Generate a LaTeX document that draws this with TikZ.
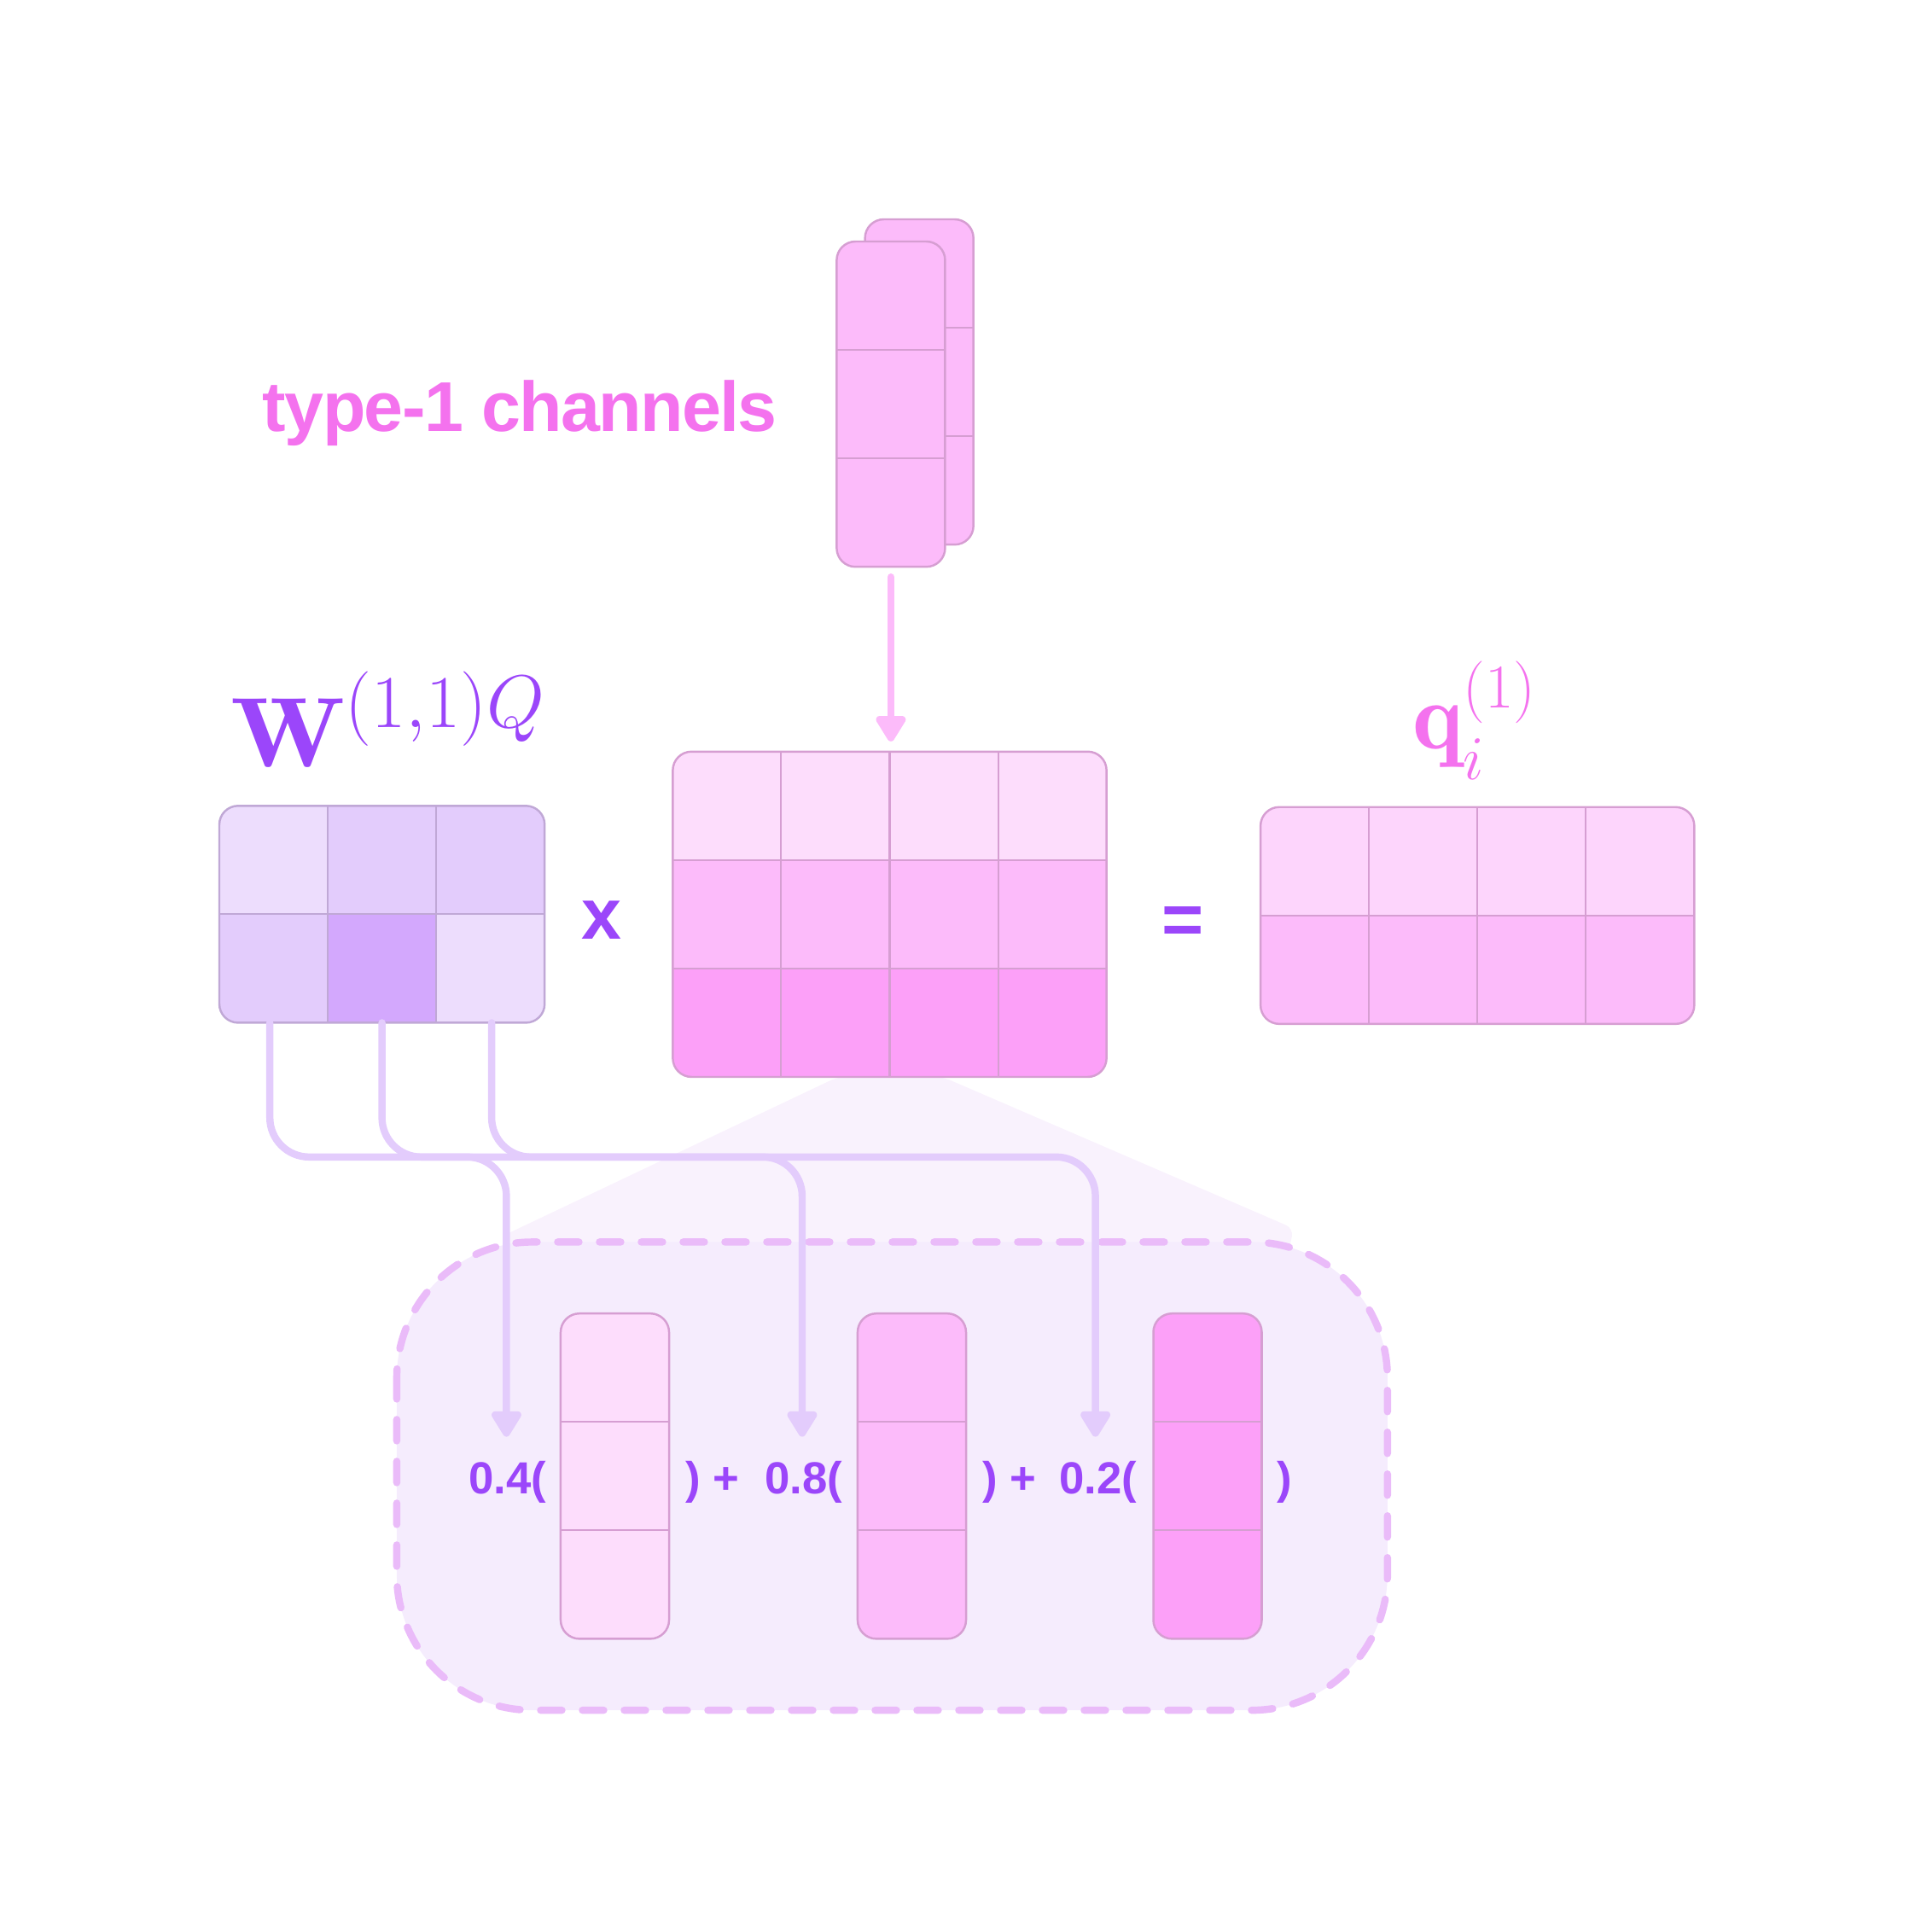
\documentclass[tikz,border=0pt]{standalone}
\usepackage{amsmath,amssymb}
\usepackage{fontspec}
\newfontfamily\headfont{Liberation Sans}[LetterSpace=-2]
\newfontfamily\coeffont{Liberation Sans}
\usepackage{tikz}
\usetikzlibrary{arrows.meta,positioning,calc}
\definecolor{Violet}{RGB}{155,70,250}
\definecolor{Magenta}{RGB}{244,114,238}
\definecolor{PinkA}{RGB}{253,221,252}
\definecolor{PinkB}{RGB}{252,187,250}
\definecolor{PinkC}{RGB}{252,160,248}
\definecolor{PinkQ}{RGB}{253,213,252}
\definecolor{LilacA}{RGB}{237,221,253}
\definecolor{LilacB}{RGB}{227,204,252}
\definecolor{LilacC}{RGB}{211,168,253}
\definecolor{PinkEdge}{RGB}{214,158,210}
\definecolor{LilacEdge}{RGB}{192,168,214}
\definecolor{Wire}{RGB}{227,204,252}
\definecolor{DashEdge}{RGB}{234,187,249}
\definecolor{ZoomFill}{RGB}{245,236,253}
\definecolor{FanFill}{RGB}{249,242,253}
\newcommand{\cellsz}{12.707mm}
\newcommand{\blockrad}{2.2mm}
\tikzset{
  blockbox/.style={draw=none,inner sep=0pt,outer sep=0pt},
  wire/.style={-{Triangle[length=3.4mm,width=3.9mm,round]},draw=Wire,line width=2.4pt,line cap=round,rounded corners=4.6mm},
  feed/.style={-{Triangle[length=3.4mm,width=3.9mm,round]},draw=PinkB,line width=2.4pt,line cap=round},
  chanlabel/.style={font={\headfont\bfseries\fontsize{23.5}{28}\selectfont},text=Magenta,inner sep=0pt},
  oplabel/.style={font={\coeffont\bfseries\fontsize{24}{28}\selectfont},text=Violet,inner sep=0pt},
  coef/.style={font={\coeffont\bfseries\fontsize{15}{18}\selectfont},text=Violet,inner sep=0pt},
  mathlabel/.style={font={\fontsize{33}{39}\selectfont},inner sep=0pt},
  zoombox/.style={draw=DashEdge,fill=ZoomFill,line width=2.4pt,dash pattern=on 2.5mm off 2.4mm,line cap=round,rounded corners=15.9mm}
}
% #1 name, #2 top left, #3 cols, #4 rows, #5 edge colour, #6 cell fills (row by row)
\newcommand{\block}[6]{%
  \node[blockbox,minimum width=#3*\cellsz,minimum height=#4*\cellsz,anchor=north west] (#1) at (#2) {};
  \begin{scope}
    \clip[rounded corners=\blockrad] (#1.north west) rectangle (#1.south east);
    \foreach \f [count=\k from 0] in {#6} {
      \pgfmathtruncatemacro\ci{mod(\k,#3)}
      \pgfmathtruncatemacro\ri{div(\k,#3)}
      \filldraw[fill=\f,draw=#5,line width=0.6pt] ($(#1.north west)+(\ci*88,\ri*88)$) rectangle ++(88,88);
    }
  \end{scope}
  \draw[rounded corners=\blockrad,draw=#5,line width=0.7pt] (#1.north west) rectangle (#1.south east);
}

\begin{document}
\begin{tikzpicture}[x=0.1444mm,y=-0.1444mm]
\useasboundingbox (0,0) rectangle (1554,1568);

% zoomed-in region
\fill[FanFill,rounded corners=1mm] (680,874) -- (765,874) -- (1050,997) -- (1040,1040) -- (420,1040) -- (406,1004) -- cycle;
\path[zoombox] (322,1008) rectangle (1126,1388);

% input channels
\block{chB}{702,178}{1}{3}{PinkEdge}{PinkB,PinkB,PinkB}
\block{ch}{679,196}{1}{3}{PinkEdge}{PinkB,PinkB,PinkB}

% matrices
\block{W}{178,654}{3}{2}{LilacEdge}{LilacA,LilacB,LilacB,LilacB,LilacC,LilacA}
\block{C}{546,610}{4}{3}{PinkEdge}{PinkA,PinkA,PinkA,PinkA,PinkB,PinkB,PinkB,PinkB,PinkC,PinkC,PinkC,PinkC}
\block{q}{1023,655}{4}{2}{PinkEdge}{PinkQ,PinkQ,PinkQ,PinkQ,PinkB,PinkB,PinkB,PinkB}

% weighted columns
\block{v1}{455,1066}{1}{3}{PinkEdge}{PinkA,PinkA,PinkA}
\block{v2}{696,1066}{1}{3}{PinkEdge}{PinkB,PinkB,PinkB}
\block{v3}{936,1066}{1}{3}{PinkEdge}{PinkC,PinkC,PinkC}

% labels
\node[chanlabel,anchor=base] (chanlab) at (422,350) {type-1 channels};
\node[mathlabel,text=Violet,anchor=base west] (Wlab) at (187,622) {${\scalebox{1.12}[1]{$\mathbf{W}$}}^{(1,1)Q}$};
\node[mathlabel,text=Magenta,anchor=base west,font={\fontsize{32}{38}\selectfont}] (qlab) at (1146,608) {$\mathbf{q}_i^{(1)}$};
\node[oplabel] (times) at (488,747) {x};
\node[oplabel] (equals) at (960,751) {=};

\node[coef,anchor=base east] (c1) at (444,1212) {0.4(};
\node[coef,anchor=base west] (k1) at (556,1212) {) +};
\node[coef,anchor=base east] (c2) at (684,1212) {0.8(};
\node[coef,anchor=base west] (k2) at (797,1212) {) +};
\node[coef,anchor=base east] (c3) at (923,1212) {0.2(};
\node[coef,anchor=base west] (k3) at (1036,1212) {)};

% connectors
\coordinate (bus) at (0,939);
\coordinate (w1) at ($(W.south west)+(41,0)$);
\coordinate (w2) at ($(W.south west)+(132,0)$);
\coordinate (w3) at ($(W.south west)+(221,0)$);
\coordinate (tip1) at (411,1166);
\coordinate (tip2) at (651,1166);
\coordinate (tip3) at (889,1166);
\draw[wire] (w1) |- (tip1 |- bus) -- (tip1);
\draw[wire] (w2) |- (tip2 |- bus) -- (tip2);
\draw[wire] (w3) |- (tip3 |- bus) -- (tip3);

\draw[feed,shorten <=1.2mm,shorten >=1.2mm] (ch.south) -- (ch.south |- C.north);
\end{tikzpicture}
\end{document}
